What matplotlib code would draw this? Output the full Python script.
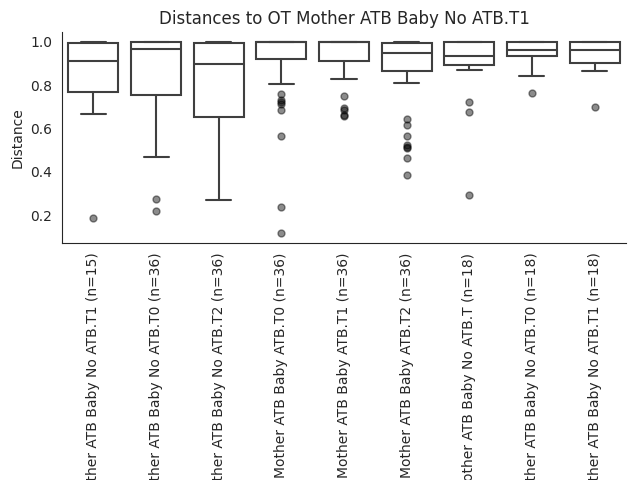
import numpy as np
import matplotlib
matplotlib.use("Agg")
import matplotlib.pyplot as plt
import seaborn as sns

## Box statistics

labels = [
    "Mother ATB Baby No ATB.T1 (n=15)",
    "Mother ATB Baby No ATB.T0 (n=36)",
    "Mother ATB Baby No ATB.T2 (n=36)",
    "Mother ATB Baby ATB.T0 (n=36)",
    "Mother ATB Baby ATB.T1 (n=36)",
    "Mother ATB Baby ATB.T2 (n=36)",
    "Mother ATB Baby No ATB.T (n=18)",
    "Mother ATB Baby No ATB.T0 (n=18)",
    "Mother ATB Baby No ATB.T1 (n=18)",
]

q1 = [0.767, 0.755, 0.653, 0.921, 0.909, 0.863, 0.894, 0.935, 0.903]
med = [0.909, 0.965, 0.897, 1.0, 1.0, 0.946, 0.934, 0.963, 0.962]
q3 = [0.992, 0.997, 0.995, 1.0, 1.0, 0.993, 1.0, 1.0, 1.0]
whislo = [0.668, 0.470, 0.271, 0.807, 0.826, 0.810, 0.872, 0.844, 0.863]
whishi = [1.0, 1.0, 1.0, 1.0, 1.0, 1.0, 1.0, 1.0, 1.0]
fliers = [
    [0.189],
    [0.277, 0.222],
    [],
    [0.758, 0.733, 0.721, 0.715, 0.684, 0.564, 0.236, 0.117],
    [0.749, 0.693, 0.685, 0.662, 0.657],
    [0.644, 0.615, 0.564, 0.524, 0.514, 0.510, 0.462, 0.388],
    [0.722, 0.676, 0.292],
    [0.764],
    [0.699],
]

stats = []
for i in range(len(labels)):
    stats.append({"q1": q1[i], "med": med[i], "q3": q3[i],
                  "whislo": whislo[i], "whishi": whishi[i],
                  "fliers": fliers[i], "label": labels[i]})

sns.set_style("white")

fig = plt.figure(figsize=(6.4, 4.8), dpi=100)
ax = fig.add_subplot()

lc = "#3f3f3f"
ax.bxp(stats, positions=np.arange(len(labels)), widths=0.8,
       patch_artist=True,
       boxprops=dict(facecolor="white", edgecolor=lc, linewidth=1.5),
       medianprops=dict(color=lc, linewidth=1.5),
       whiskerprops=dict(color=lc, linewidth=1.5),
       capprops=dict(color=lc, linewidth=1.5),
       flierprops=dict(marker="o", markersize=5, markerfacecolor="k",
                       markeredgecolor="k", alpha=0.45, linestyle="none"))

ax.set_xlim(-0.5, len(labels) - 0.5)
ax.set_xticks(np.arange(len(labels)))
ax.set_xticklabels(labels, rotation=90)
ax.set_ylabel("Distance")
ax.set_title("Distances to OT Mother ATB Baby No ATB.T1")
sns.despine()

fig.subplots_adjust(left=0.097, right=0.978, top=0.933, bottom=0.494)
fig.savefig("out.png", dpi=100)
